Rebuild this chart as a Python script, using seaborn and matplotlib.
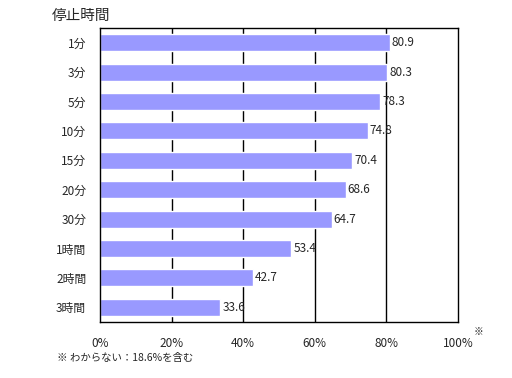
import matplotlib
matplotlib.use('Agg')
import matplotlib.pyplot as plt
import numpy as np
import pandas as pd
import seaborn as sns

categories = ['1分', '3分', '5分', '10分', '15分', '20分', '30分', '1時間', '2時間', '3時間']
values = [80.9, 80.3, 78.3, 74.8, 70.4, 68.6, 64.7, 53.4, 42.7, 33.6]
xticks = [0, 20, 40, 60, 80, 100]
xtick_labels = ['0%', '20%', '40%', '60%', '80%', '100%']

sns.set_style('white')
plt.rcParams['font.family'] = ['Noto Sans CJK JP', 'DejaVu Sans']

df = pd.DataFrame({'time': categories, 'rate': values})

fig = plt.figure(figsize=(5.12, 3.78), dpi=100)
ax = fig.add_axes([100 / 512, 56 / 378, 358 / 512, 294 / 378])

sns.barplot(data=df, x='rate', y='time', orient='h', color='#9999FF',
            saturation=1, width=0.58, ax=ax, zorder=1)

ax.set_xlim(0, 100)
ax.set_ylim(len(categories) - 0.5, -0.5)
ax.set_xticks(xticks)
ax.set_xticklabels(xtick_labels, fontsize=8.5)
for x in xticks[1:-1]:
    ax.axvline(x, color='black', lw=1, zorder=0)
ax.tick_params(axis='x', length=0, pad=11)
ax.tick_params(axis='y', which='major', length=0, pad=10, labelsize=8.5)
ax.set_yticks(np.arange(0.5, len(categories) - 1, 1), minor=True)
ax.tick_params(axis='y', which='minor', direction='in', length=4, width=1, color='black')
ax.set_xlabel('')
ax.set_ylabel('')
for s in ax.spines.values():
    s.set_color('black')
    s.set_linewidth(1)

for i, v in enumerate(values):
    ax.text(v + 0.6, i, f'{v:.1f}', va='center', ha='left', fontsize=8.5, zorder=3)

fig.text(52 / 512, 1 - 16 / 378, '停止時間', fontsize=10.5, va='center', ha='left')
fig.text(474 / 512, 1 - 332 / 378, '※', fontsize=7, va='center', ha='left')
fig.text(57 / 512, 1 - 358 / 378, '※ わからない：18.6%を含む', fontsize=7.5, va='center', ha='left')

fig.savefig('out.png', dpi=100)
